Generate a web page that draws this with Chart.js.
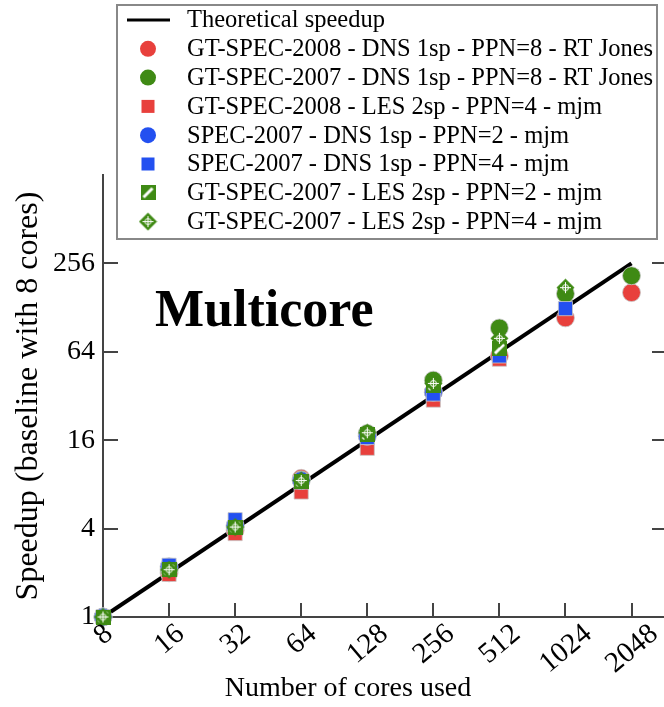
<!DOCTYPE html>
<html>
<head>
<meta charset="utf-8">
<script src="https://cdn.jsdelivr.net/npm/chart.js@4/dist/chart.umd.min.js"></script>
<style>
  html, body { margin: 0; padding: 0; background: #fff; }
  canvas { display: block; }
</style>
</head>
<body>
<canvas id="grafico" width="664" height="707"></canvas>
<script>
// Datos
const nucleos = [8, 16, 32, 64, 128, 256, 512, 1024, 2048];
const ticksX = [8, 16, 32, 64, 128, 256, 512, 1024, 2048];
const ticksY = [1, 4, 16, 64, 256];
const nucleosTeorico = [8, 2048];
const speedupTeorico = [1, 256];

const gt2008DnsPpn8 = [1, 2.0, 3.9, 8.8, 17.3, 34, 60, 109, 162];
const gt2007DnsPpn8 = [1, 2.1, 4.1, 8.6, 17.8, 41, 93, 159, 211];
const gt2008LesPpn4 = [1, 1.95, 3.7, 7.1, 14.1, 30, 57, null, null];
const spec2007DnsPpn2 = [1, 2.2, 4.2, 8.5, 17, 34, null, null, null];
const spec2007DnsPpn4 = [1, 2.25, 4.6, 8.3, 16.7, 33, 60, 126, null];
const gt2007LesPpn2 = [1, 2.1, 4.1, 8.4, 17.5, 38, 67, null, null];
const gt2007LesPpn4 = [1, 2.1, 4.1, 8.5, 18, 39, 79, 175, null];

const etiquetas = [
    'Theoretical speedup',
    'GT-SPEC-2008 - DNS 1sp - PPN=8 - RT Jones',
    'GT-SPEC-2007 - DNS 1sp - PPN=8 - RT Jones',
    'GT-SPEC-2008 - LES 2sp - PPN=4 - mjm',
    'SPEC-2007 - DNS 1sp - PPN=2 - mjm',
    'SPEC-2007 - DNS 1sp - PPN=4 - mjm',
    'GT-SPEC-2007 - LES 2sp - PPN=2 - mjm',
    'GT-SPEC-2007 - LES 2sp - PPN=4 - mjm'
];

const rojo = '#e8403c';
const verde = '#3f8a14';
const azul = '#2350f0';
const fuente = '"Liberation Serif", "DejaVu Serif", serif';

function puntos(serie) {
    return nucleos.map((x, i) => ({ x: x, y: serie[i] })).filter(p => p.y !== null);
}

// Marcadores con trama (cuadro rayado y rombo)
function crearCuadroRayado() {
    const c = document.createElement('canvas');
    c.width = 15; c.height = 15;
    const g = c.getContext('2d');
    g.fillStyle = verde;
    g.fillRect(0, 0, 15, 15);
    g.strokeStyle = '#fff';
    g.lineWidth = 3;
    g.beginPath();
    g.moveTo(3, 12);
    g.lineTo(12, 3);
    g.stroke();
    return c;
}

function crearRomboTrama() {
    const c = document.createElement('canvas');
    c.width = 19; c.height = 19;
    const g = c.getContext('2d');
    g.fillStyle = verde;
    g.beginPath();
    g.moveTo(9.5, 0.5); g.lineTo(18.5, 9.5); g.lineTo(9.5, 18.5); g.lineTo(0.5, 9.5);
    g.closePath();
    g.fill();
    g.strokeStyle = '#fff';
    g.lineWidth = 1;
    g.beginPath();
    g.moveTo(9.5, 4); g.lineTo(9.5, 15);
    g.moveTo(4, 9.5); g.lineTo(15, 9.5);
    g.stroke();
    g.beginPath();
    g.arc(9.5, 9.5, 3, 0, Math.PI * 2);
    g.stroke();
    return c;
}

const cuadroRayado = crearCuadroRayado();
const romboTrama = crearRomboTrama();

function serie(indice, datos, estilo, color, radio) {
    return {
        label: etiquetas[indice],
        data: puntos(datos),
        pointStyle: estilo,
        pointRadius: radio,
        pointHoverRadius: radio,
        backgroundColor: color,
        borderColor: 'rgba(200,200,200,0.8)',
        borderWidth: 1,
        clip: false,
        order: 20 - indice
    };
}

const datasets = [
    {
        label: etiquetas[0],
        data: nucleosTeorico.map((x, i) => ({ x: x, y: speedupTeorico[i] })),
        showLine: true,
        borderColor: '#000',
        borderWidth: 4,
        pointRadius: 0,
        order: 30
    },
    serie(1, gt2008DnsPpn8, 'circle', rojo, 9),
    serie(2, gt2007DnsPpn8, 'circle', verde, 9),
    serie(3, gt2008LesPpn4, 'rect', rojo, 10),
    serie(4, spec2007DnsPpn2, 'circle', azul, 9),
    serie(5, spec2007DnsPpn4, 'rect', azul, 10),
    serie(6, gt2007LesPpn2, cuadroRayado, verde, 8),
    serie(7, gt2007LesPpn4, romboTrama, verde, 9)
];

// Marcas hacia dentro, etiquetas x giradas, leyenda, rotulo "Multicore" y titulo del eje x
const decoracion = {
    id: 'decoracion',
    afterDraw(chart) {
        const ctx = chart.ctx;
        const area = chart.chartArea;
        const ex = chart.scales.x;
        const ey = chart.scales.y;
        ctx.save();
        ctx.strokeStyle = '#444';
        ctx.lineWidth = 2;
        ctx.beginPath();
        ticksX.slice(1).forEach(v => {
            const px = Math.round(ex.getPixelForValue(v));
            ctx.moveTo(px, area.bottom);
            ctx.lineTo(px, area.bottom - 14);
        });
        ticksY.slice(1).forEach(v => {
            const py = Math.round(ey.getPixelForValue(v));
            ctx.moveTo(area.left, py);
            ctx.lineTo(area.left + 15, py);
            ctx.moveTo(area.right, py);
            ctx.lineTo(area.right - 12, py);
        });
        ctx.stroke();

        // Etiquetas del eje x, giradas sobre su centro
        const giro = 40 * Math.PI / 180;
        ctx.fillStyle = '#000';
        ctx.font = '29px ' + fuente;
        ctx.textAlign = 'center';
        ctx.textBaseline = 'middle';
        ticksX.forEach(v => {
            const texto = String(v);
            const w = ctx.measureText(texto).width;
            const alto = (w * Math.sin(giro) + 20 * Math.cos(giro)) / 2;
            const px = ex.getPixelForValue(v);
            ctx.save();
            ctx.translate(px, area.bottom + 5 + alto);
            ctx.rotate(-giro);
            ctx.fillText(texto, 0, 1);
            ctx.restore();
        });

        // Multicore
        ctx.font = 'bold 52px ' + fuente;
        ctx.textAlign = 'left';
        ctx.textBaseline = 'alphabetic';
        ctx.fillText('Multicore', 155, 326);

        // Titulo eje x
        ctx.font = '28px ' + fuente;
        ctx.textAlign = 'center';
        ctx.textBaseline = 'middle';
        ctx.fillText('Number of cores used', 348, 689);

        // Leyenda
        const cajaX = 117, cajaY = 5, cajaW = 540, cajaH = 234;
        ctx.fillStyle = '#fff';
        ctx.fillRect(cajaX, cajaY, cajaW, cajaH);
        ctx.strokeStyle = '#888';
        ctx.lineWidth = 2;
        ctx.strokeRect(cajaX, cajaY, cajaW, cajaH);
        ctx.font = '24.5px ' + fuente;
        ctx.textAlign = 'left';
        ctx.textBaseline = 'middle';
        chart.data.datasets.forEach((ds, i) => {
            const fy = 20 + i * 28.8;
            const mx = 148;
            if (i === 0) {
                ctx.strokeStyle = '#000';
                ctx.lineWidth = 3;
                ctx.beginPath();
                ctx.moveTo(127, fy);
                ctx.lineTo(170, fy);
                ctx.stroke();
            } else if (ds.pointStyle === 'circle') {
                ctx.fillStyle = ds.backgroundColor;
                ctx.beginPath();
                ctx.arc(mx, fy, 8, 0, Math.PI * 2);
                ctx.fill();
            } else if (ds.pointStyle === 'rect') {
                ctx.fillStyle = ds.backgroundColor;
                ctx.fillRect(mx - 6.5, fy - 6.5, 13, 13);
            } else {
                const img = ds.pointStyle;
                ctx.drawImage(img, mx - img.width / 2, fy - img.height / 2);
            }
            ctx.fillStyle = '#000';
            ctx.fillText(ds.label, 187, fy + 1);
        });
        ctx.restore();
    }
};

new Chart(document.getElementById('grafico'), {
    type: 'scatter',
    data: { datasets: datasets },
    options: {
        responsive: false,
        animation: false,
        layout: { autoPadding: false, padding: { top: 175, right: 0, left: 0, bottom: 0 } },
        plugins: {
            legend: { display: false },
            tooltip: { enabled: false }
        },
        scales: {
            x: {
                type: 'logarithmic',
                min: 8,
                max: 2880,
                afterBuildTicks: scale => { scale.ticks = ticksX.map(v => ({ value: v })); },
                afterFit: scale => {
                    scale.height = 90;
                    scale.paddingRight = 0;
                    scale.paddingLeft = 0;
                },
                grid: { display: false, drawTicks: false },
                border: { display: true, color: '#444', width: 2 },
                ticks: { display: false, autoSkip: false }
            },
            y: {
                type: 'logarithmic',
                min: 1,
                max: 1024,
                afterBuildTicks: scale => { scale.ticks = ticksY.map(v => ({ value: v })); },
                afterFit: scale => { scale.width = 103; },
                grid: { display: false, drawTicks: false },
                border: { display: true, color: '#444', width: 2 },
                title: {
                    display: true,
                    text: 'Speedup (baseline with 8 cores)',
                    color: '#000',
                    font: { family: fuente, size: 32 },
                    padding: { top: 9, bottom: 0 }
                },
                ticks: {
                    autoSkip: false,
                    padding: 8,
                    color: '#000',
                    font: { family: fuente, size: 28 },
                    callback: v => String(v)
                }
            }
        }
    },
    plugins: [decoracion]
});
</script>
</body>
</html>
